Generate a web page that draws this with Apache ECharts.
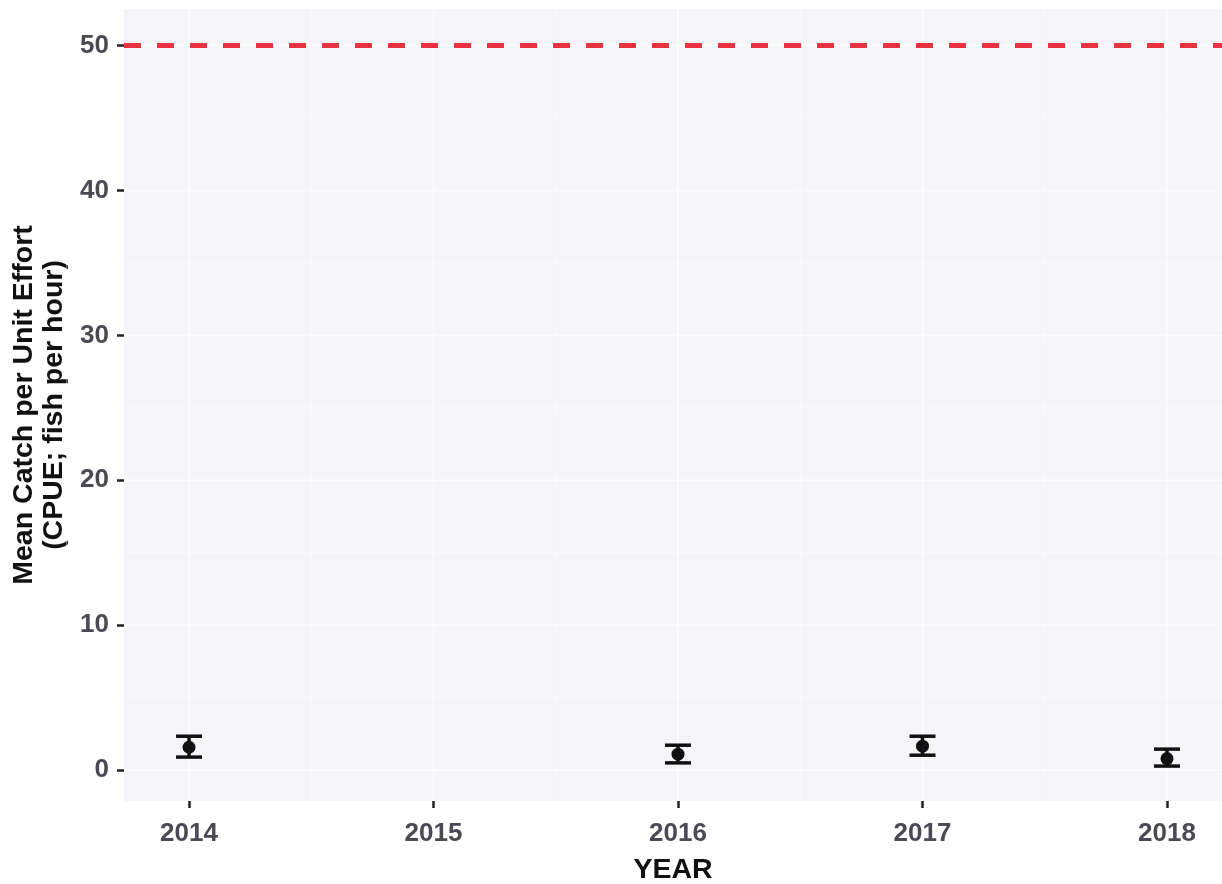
<!DOCTYPE html>
<html>
<head>
<meta charset="utf-8">
<title>Mean CPUE by year</title>
<script src="https://cdn.jsdelivr.net/npm/echarts@6/dist/echarts.min.js"></script>
<style>
  html, body { margin: 0; padding: 0; background: #ffffff; }
  #chart { width: 1222px; height: 884px; }
</style>
</head>
<body>
<div id="chart"></div>
<script>
// Survey years and mean catch per unit effort (fish per hour)
const years = [2014, 2016, 2017, 2018];
const meanCpue = [1.58, 1.1, 1.65, 0.8];
const lowerCpue = [0.9, 0.5, 1.03, 0.28];
const upperCpue = [2.34, 1.72, 2.34, 1.45];
const targetCpue = 50;

const yearTicks = [2014, 2015, 2016, 2017, 2018];
const yearMinor = [2013.5, 2014.5, 2015.5, 2016.5, 2017.5, 2018.5];
const yTicks = [0, 10, 20, 30, 40, 50];
const yMinor = [5, 15, 25, 35, 45];

const xMin = 2013.734, xMax = 2018.225;
const yMin = -2.13, yMax = 52.52;

const tickText = {
  color: '#4a4a55',
  fontFamily: 'Liberation Sans, Arial, sans-serif',
  fontSize: 26,
  fontWeight: 'bold'
};
const titleText = {
  color: '#111111',
  fontFamily: 'Liberation Sans, Arial, sans-serif',
  fontSize: 28.5,
  fontWeight: 'bold'
};

const chart = echarts.init(document.getElementById('chart'), null, { renderer: 'canvas' });

// white grid lines drawn as a custom series (major + minor)
const gridData = [];
yearTicks.forEach(v => gridData.push(['x', v, 2]));
yearMinor.forEach(v => gridData.push(['x', v, 1]));
yTicks.forEach(v => gridData.push(['y', v, 2]));
yMinor.forEach(v => gridData.push(['y', v, 1]));

const errData = years.map((y, i) => [y, lowerCpue[i], upperCpue[i]]);

chart.setOption({
  animation: false,
  backgroundColor: '#ffffff',
  grid: {
    left: 124, right: 0, top: 9, bottom: 83,
    outerBoundsMode: 'none',
    containLabel: false,
    show: true, backgroundColor: '#f5f5f9', borderWidth: 0
  },
  xAxis: {
    type: 'value', min: xMin, max: xMax,
    name: 'YEAR', nameLocation: 'middle', nameGap: 55,
    nameTextStyle: titleText,
    axisLine: { show: false, onZero: false },
    splitLine: { show: false },
    axisTick: { show: true, customValues: yearTicks, length: 7, lineStyle: { color: '#222222', width: 2.5 } },
    axisLabel: Object.assign({ customValues: yearTicks, margin: 20, formatter: v => String(v) }, tickText)
  },
  yAxis: {
    type: 'value', min: yMin, max: yMax,
    name: 'Mean Catch per Unit Effort\n(CPUE; fish per hour)',
    nameLocation: 'middle', nameGap: 55,
    nameTextStyle: Object.assign({ lineHeight: 30, align: 'center' }, titleText),
    axisLine: { show: false, onZero: false },
    splitLine: { show: false },
    axisTick: { show: true, customValues: yTicks, length: 7, lineStyle: { color: '#222222', width: 2.5 } },
    axisLabel: Object.assign({ customValues: yTicks, margin: 15 }, tickText)
  },
  series: [
    {
      type: 'custom',
      silent: true,
      z: 1,
      data: gridData,
      renderItem: function (params, api) {
        const kind = api.value(0);
        const v = api.value(1);
        const w = api.value(2);
        const cs = params.coordSys;
        let shape;
        if (kind === 'x') {
          const p = api.coord([v, 0]);
          shape = { x1: p[0], y1: cs.y, x2: p[0], y2: cs.y + cs.height };
        } else {
          const p = api.coord([xMin, v]);
          shape = { x1: cs.x, y1: p[1], x2: cs.x + cs.width, y2: p[1] };
        }
        return { type: 'line', shape: shape, style: { stroke: '#ffffff', lineWidth: w, opacity: 0.55 } };
      },
      encode: { x: 1, y: 1 }
    },
    {
      type: 'custom',
      name: 'error',
      z: 3,
      data: errData,
      renderItem: function (params, api) {
        const x = api.value(0);
        const lo = api.coord([x, api.value(1)]);
        const hi = api.coord([x, api.value(2)]);
        const half = 13;
        const style = { stroke: '#111111', lineWidth: 3.5 };
        return {
          type: 'group',
          children: [
            { type: 'line', shape: { x1: lo[0], y1: lo[1], x2: hi[0], y2: hi[1] }, style: style },
            { type: 'line', shape: { x1: lo[0] - half, y1: lo[1], x2: lo[0] + half, y2: lo[1] }, style: style },
            { type: 'line', shape: { x1: hi[0] - half, y1: hi[1], x2: hi[0] + half, y2: hi[1] }, style: style }
          ]
        };
      },
      encode: { x: 0, y: [1, 2] }
    },
    {
      type: 'scatter',
      z: 4,
      symbol: 'circle',
      symbolSize: 13,
      itemStyle: { color: '#111111', opacity: 1 },
      data: years.map((y, i) => [y, meanCpue[i]]),
      markLine: {
        silent: true,
        symbol: 'none',
        label: { show: false },
        lineStyle: { color: '#e8323f', width: 5, type: [17, 16] },
        data: [{ yAxis: targetCpue }]
      }
    }
  ]
});
</script>
</body>
</html>
